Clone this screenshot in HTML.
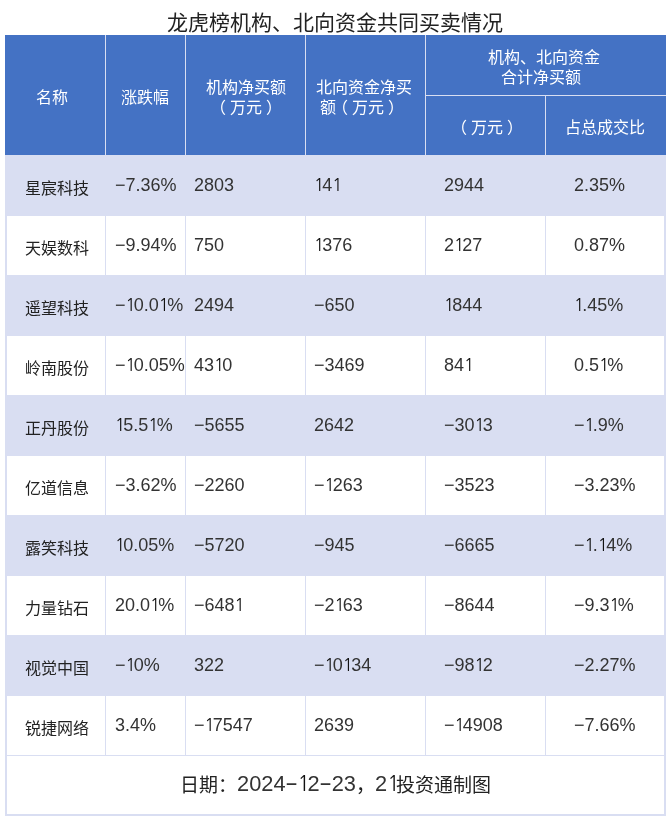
<!DOCTYPE html>
<html lang="zh-CN">
<head>
<meta charset="utf-8">
<title>龙虎榜机构、北向资金共同买卖情况</title>
<style>
html,body{margin:0;padding:0;background:#fff;}
body{width:670px;height:820px;position:relative;overflow:hidden;font-family:"Liberation Sans","Noto Sans CJK SC",sans-serif;}
.a{position:absolute;}
.t{position:absolute;white-space:nowrap;line-height:20px;will-change:transform;}
.title{left:0;width:670px;top:8px;text-align:center;font-size:21px;line-height:30px;color:#222;}
.hdr{left:5px;top:35px;width:661px;height:120px;background:#4472C4;}
.ln{position:absolute;background:#D9DEF2;}
.band{position:absolute;left:5px;width:661px;height:61px;background:#D9DEF2;}
.h{color:#fff;font-size:16px;font-family:"Noto Sans CJK SC",sans-serif;}
.c{color:#222;}
.nm{font-size:16px;font-family:"Noto Sans CJK SC",sans-serif;}
.n{font-size:18px;font-family:"Liberation Sans",sans-serif;color:#333;}
.ft{font-size:19px;color:#222;}
.ft .fd,.ft .hy{color:#333;}
.fd{position:relative;top:-1.5px;font-size:21.8px;font-family:"Liberation Sans",sans-serif;}
.hy{display:inline-block;width:12px;text-align:center;font-size:21.8px;font-family:"Liberation Sans",sans-serif;}
.hy i{font-style:normal;display:inline-block;transform:translateY(-2px) scaleX(1.8);}
.o2{font-family:"NanumGothic",sans-serif;font-size:20.6px;letter-spacing:-2.4px;color:#111;}
.o{font-family:"NanumGothic",sans-serif;font-size:17px;letter-spacing:-2px;color:#111;}
.lp{position:relative;left:-4px;}
.rp{position:relative;left:4px;}
</style>
</head>
<body>
<div class="t title">龙虎榜机构、北向资金共同买卖情况</div>

<div class="a hdr"></div>
<!-- header lines -->
<div class="ln" style="left:105px;top:35px;width:1px;height:120px"></div>
<div class="ln" style="left:185px;top:35px;width:1px;height:120px"></div>
<div class="ln" style="left:305px;top:35px;width:1px;height:120px"></div>
<div class="ln" style="left:425px;top:35px;width:1px;height:120px"></div>
<div class="ln" style="left:545px;top:95px;width:1px;height:60px"></div>
<div class="ln" style="left:426px;top:95px;width:240px;height:1px"></div>

<!-- header text -->
<div class="t h" style="left:36px;top:86px">名称</div>
<div class="t h" style="left:121px;top:86px">涨跌幅</div>
<div class="t h" style="left:205.5px;top:76px">机构净买额</div>
<div class="t h" style="left:214px;top:96px"><span class="lp">（</span>万元<span class="rp">）</span></div>
<div class="t h" style="left:315.5px;top:76px">北向资金净买</div>
<div class="t h" style="left:320px;top:96px">额<span class="lp">（</span>万元<span class="rp">）</span></div>
<div class="t h" style="left:488px;top:46px">机构、北向资金</div>
<div class="t h" style="left:501px;top:66px">合计净买额</div>
<div class="t h" style="left:455px;top:116px"><span class="lp">（</span>万元<span class="rp">）</span></div>
<div class="t h" style="left:565px;top:116px">占总成交比</div>

<!-- body bands -->
<div class="band" style="top:155px"></div>
<div class="band" style="top:275px"></div>
<div class="band" style="top:395px"></div>
<div class="band" style="top:515px"></div>
<div class="band" style="top:635px"></div>
<!-- horizontal lines -->
<div class="ln" style="left:5px;top:215px;width:661px;height:1px"></div>
<div class="ln" style="left:5px;top:335px;width:661px;height:1px"></div>
<div class="ln" style="left:5px;top:455px;width:661px;height:1px"></div>
<div class="ln" style="left:5px;top:575px;width:661px;height:1px"></div>
<div class="ln" style="left:5px;top:695px;width:661px;height:1px"></div>
<div class="ln" style="left:5px;top:755px;width:661px;height:1px"></div>
<div class="ln" style="left:5px;top:814px;width:661px;height:2px"></div>
<!-- vertical lines -->
<div class="ln" style="left:5px;top:155px;width:2px;height:661px"></div>
<div class="ln" style="left:664px;top:155px;width:2px;height:661px"></div>
<div class="ln" style="left:105px;top:155px;width:1px;height:600px"></div>
<div class="ln" style="left:185px;top:155px;width:1px;height:600px"></div>
<div class="ln" style="left:305px;top:155px;width:1px;height:600px"></div>
<div class="ln" style="left:425px;top:155px;width:1px;height:600px"></div>
<div class="ln" style="left:545px;top:155px;width:1px;height:600px"></div>

<!--ROWS-->
<div class="t c nm" style="left:24.5px;top:177px">星宸科技</div>
<div class="t c n" style="left:115px;top:174.7px">−7.36%</div>
<div class="t c n" style="left:194px;top:174.7px">2803</div>
<div class="t c n" style="left:313.5px;top:174.7px"><span class="o">1</span>4<span class="o">1</span></div>
<div class="t c n" style="left:444px;top:174.7px">2944</div>
<div class="t c n" style="left:574px;top:174.7px">2.35%</div>
<div class="t c nm" style="left:24.5px;top:237px">天娱数科</div>
<div class="t c n" style="left:115px;top:234.7px">−9.94%</div>
<div class="t c n" style="left:194px;top:234.7px">750</div>
<div class="t c n" style="left:313.5px;top:234.7px"><span class="o">1</span>376</div>
<div class="t c n" style="left:444px;top:234.7px">2<span class="o">1</span>27</div>
<div class="t c n" style="left:574px;top:234.7px">0.87%</div>
<div class="t c nm" style="left:24.5px;top:297px">遥望科技</div>
<div class="t c n" style="left:115px;top:294.7px">−<span class="o">1</span>0.0<span class="o">1</span>%</div>
<div class="t c n" style="left:194px;top:294.7px">2494</div>
<div class="t c n" style="left:313.5px;top:294.7px">−650</div>
<div class="t c n" style="left:444px;top:294.7px"><span class="o">1</span>844</div>
<div class="t c n" style="left:574px;top:294.7px"><span class="o">1</span>.45%</div>
<div class="t c nm" style="left:24.5px;top:357px">岭南股份</div>
<div class="t c n" style="left:115px;top:354.7px">−<span class="o">1</span>0.05%</div>
<div class="t c n" style="left:194px;top:354.7px">43<span class="o">1</span>0</div>
<div class="t c n" style="left:313.5px;top:354.7px">−3469</div>
<div class="t c n" style="left:444px;top:354.7px">84<span class="o">1</span></div>
<div class="t c n" style="left:574px;top:354.7px">0.5<span class="o">1</span>%</div>
<div class="t c nm" style="left:24.5px;top:417px">正丹股份</div>
<div class="t c n" style="left:115px;top:414.7px"><span class="o">1</span>5.5<span class="o">1</span>%</div>
<div class="t c n" style="left:194px;top:414.7px">−5655</div>
<div class="t c n" style="left:313.5px;top:414.7px">2642</div>
<div class="t c n" style="left:444px;top:414.7px">−30<span class="o">1</span>3</div>
<div class="t c n" style="left:574px;top:414.7px">−<span class="o">1</span>.9%</div>
<div class="t c nm" style="left:24.5px;top:477px">亿道信息</div>
<div class="t c n" style="left:115px;top:474.7px">−3.62%</div>
<div class="t c n" style="left:194px;top:474.7px">−2260</div>
<div class="t c n" style="left:313.5px;top:474.7px">−<span class="o">1</span>263</div>
<div class="t c n" style="left:444px;top:474.7px">−3523</div>
<div class="t c n" style="left:574px;top:474.7px">−3.23%</div>
<div class="t c nm" style="left:24.5px;top:537px">露笑科技</div>
<div class="t c n" style="left:115px;top:534.7px"><span class="o">1</span>0.05%</div>
<div class="t c n" style="left:194px;top:534.7px">−5720</div>
<div class="t c n" style="left:313.5px;top:534.7px">−945</div>
<div class="t c n" style="left:444px;top:534.7px">−6665</div>
<div class="t c n" style="left:574px;top:534.7px">−<span class="o">1</span>.<span class="o">1</span>4%</div>
<div class="t c nm" style="left:24.5px;top:597px">力量钻石</div>
<div class="t c n" style="left:115px;top:594.7px">20.0<span class="o">1</span>%</div>
<div class="t c n" style="left:194px;top:594.7px">−648<span class="o">1</span></div>
<div class="t c n" style="left:313.5px;top:594.7px">−2<span class="o">1</span>63</div>
<div class="t c n" style="left:444px;top:594.7px">−8644</div>
<div class="t c n" style="left:574px;top:594.7px">−9.3<span class="o">1</span>%</div>
<div class="t c nm" style="left:24.5px;top:657px">视觉中国</div>
<div class="t c n" style="left:115px;top:654.7px">−<span class="o">1</span>0%</div>
<div class="t c n" style="left:194px;top:654.7px">322</div>
<div class="t c n" style="left:313.5px;top:654.7px">−<span class="o">1</span>0<span class="o">1</span>34</div>
<div class="t c n" style="left:444px;top:654.7px">−98<span class="o">1</span>2</div>
<div class="t c n" style="left:574px;top:654.7px">−2.27%</div>
<div class="t c nm" style="left:24.5px;top:717px">锐捷网络</div>
<div class="t c n" style="left:115px;top:714.7px">3.4%</div>
<div class="t c n" style="left:194px;top:714.7px">−<span class="o">1</span>7547</div>
<div class="t c n" style="left:313.5px;top:714.7px">2639</div>
<div class="t c n" style="left:444px;top:714.7px">−<span class="o">1</span>4908</div>
<div class="t c n" style="left:574px;top:714.7px">−7.66%</div>
<div class="t ft" style="left:180px;top:774.5px">日期：<span class="fd">2024</span><span class="hy"><i>-</i></span><span class="fd"><span class="o2">1</span>2</span><span class="hy"><i>-</i></span><span class="fd">23</span>，</div>
<div class="t ft" style="left:374.5px;top:774.5px"><span class="fd">2<span class="o2">1</span></span></div>
<div class="t ft" style="left:396px;top:775.6px">投资通制图</div>
<!--/ROWS-->
</body>
</html>
